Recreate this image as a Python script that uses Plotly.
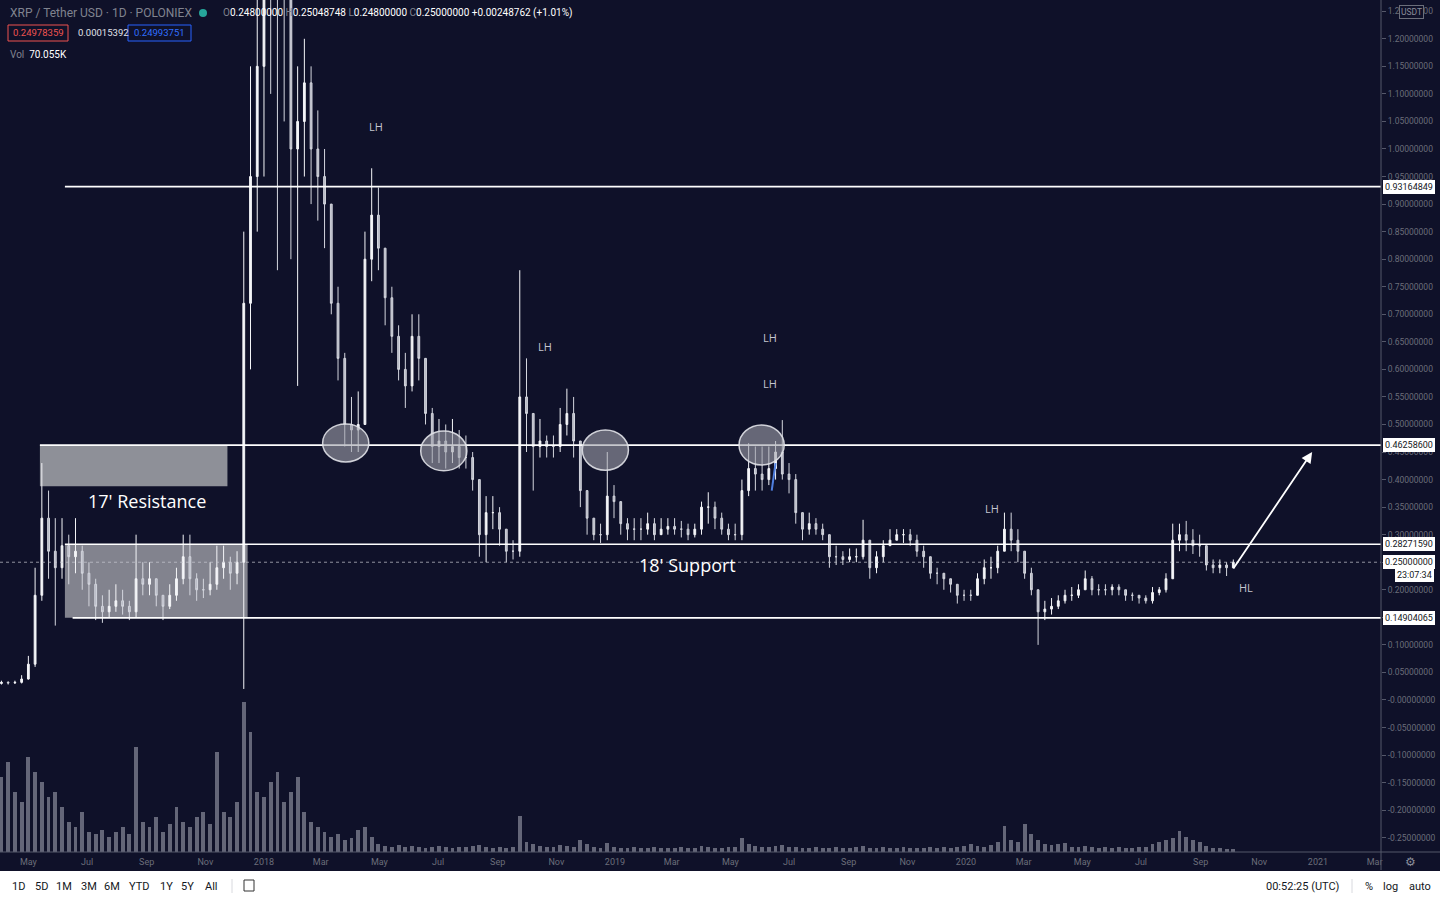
import plotly.graph_objects as go
import pandas as pd

# ---------------- data (weekly candles) ----------------
week_start = "2017-04-03"
first_open = 0.030
close = [0.032,0.031,0.032,0.038,0.065,0.19,0.33,0.27,0.24,0.28,
         0.26,0.27,0.23,0.21,0.17,0.16,0.17,0.18,0.17,0.16,
         0.22,0.21,0.22,0.19,0.17,0.19,0.22,0.26,0.22,0.20,
         0.20,0.21,0.24,0.25,0.23,0.25,0.72,0.95,1.15,1.90,
         1.60,1.40,1.30,1.00,1.05,1.12,1.00,0.95,0.90,0.72,
         0.62,0.50,0.49,0.50,0.80,0.88,0.82,0.73,0.66,0.60,
         0.57,0.66,0.62,0.52,0.46,0.47,0.45,0.46,0.44,0.44,
         0.40,0.30,0.34,0.34,0.31,0.27,0.27,0.55,0.52,0.46,
         0.47,0.46,0.46,0.50,0.52,0.47,0.38,0.33,0.30,0.30,
         0.37,0.36,0.32,0.31,0.31,0.31,0.32,0.30,0.31,0.315,
         0.31,0.31,0.30,0.31,0.35,0.35,0.33,0.31,0.30,0.30,
         0.38,0.42,0.41,0.40,0.42,0.45,0.41,0.40,0.34,0.31,
         0.32,0.31,0.30,0.26,0.26,0.255,0.26,0.26,0.29,0.24,
         0.26,0.28,0.29,0.30,0.30,0.29,0.27,0.26,0.23,0.23,
         0.22,0.21,0.19,0.19,0.19,0.22,0.24,0.24,0.27,0.31,
         0.29,0.27,0.23,0.20,0.16,0.165,0.17,0.18,0.19,0.19,
         0.20,0.22,0.20,0.20,0.20,0.205,0.20,0.19,0.19,0.185,
         0.18,0.195,0.20,0.22,0.29,0.30,0.29,0.28,0.28,0.245,
         0.24,0.245,0.24,0.25]
high = [0.035,0.034,0.035,0.045,0.08,0.24,0.43,0.38,0.33,0.33,
        0.30,0.33,0.28,0.25,0.22,0.19,0.20,0.21,0.20,0.18,
        0.30,0.25,0.25,0.22,0.19,0.21,0.24,0.30,0.30,0.23,
        0.22,0.25,0.28,0.28,0.26,0.27,0.85,1.15,1.50,2.50,
        2.20,1.80,1.50,1.35,1.15,1.20,1.15,1.07,1.00,0.90,
        0.75,0.63,0.55,0.56,0.85,0.965,0.93,0.82,0.75,0.68,
        0.63,0.70,0.70,0.62,0.53,0.51,0.50,0.51,0.49,0.48,
        0.45,0.40,0.37,0.37,0.35,0.31,0.29,0.78,0.62,0.52,
        0.51,0.48,0.48,0.53,0.565,0.55,0.47,0.38,0.33,0.32,
        0.45,0.39,0.36,0.33,0.33,0.33,0.34,0.33,0.33,0.33,
        0.33,0.325,0.32,0.32,0.36,0.377,0.36,0.34,0.32,0.32,
        0.40,0.466,0.46,0.46,0.46,0.47,0.508,0.43,0.41,0.34,
        0.34,0.33,0.32,0.30,0.28,0.27,0.275,0.275,0.327,0.29,
        0.27,0.29,0.31,0.31,0.31,0.31,0.30,0.28,0.26,0.24,
        0.23,0.22,0.21,0.20,0.20,0.23,0.255,0.26,0.28,0.34,
        0.34,0.31,0.27,0.24,0.20,0.18,0.185,0.19,0.20,0.205,
        0.21,0.235,0.225,0.21,0.21,0.21,0.21,0.20,0.195,0.19,
        0.19,0.205,0.205,0.23,0.32,0.32,0.325,0.31,0.30,0.28,
        0.255,0.255,0.25,0.255]
low = [0.028,0.028,0.029,0.030,0.037,0.06,0.18,0.22,0.135,0.22,
       0.21,0.23,0.20,0.17,0.145,0.14,0.15,0.16,0.155,0.145,
       0.15,0.19,0.19,0.17,0.145,0.165,0.18,0.21,0.19,0.18,
       0.185,0.19,0.20,0.22,0.20,0.21,0.02,0.60,0.85,0.95,
       1.10,0.78,1.05,0.80,0.57,0.95,0.90,0.87,0.82,0.70,
       0.58,0.46,0.45,0.45,0.50,0.76,0.78,0.68,0.63,0.58,
       0.53,0.56,0.58,0.50,0.43,0.43,0.42,0.43,0.42,0.42,
       0.38,0.26,0.25,0.31,0.28,0.25,0.255,0.26,0.45,0.38,
       0.44,0.44,0.44,0.45,0.48,0.44,0.35,0.30,0.29,0.285,
       0.29,0.33,0.30,0.29,0.29,0.29,0.30,0.29,0.30,0.30,
       0.30,0.295,0.29,0.295,0.30,0.32,0.31,0.30,0.29,0.29,
       0.29,0.37,0.38,0.38,0.39,0.40,0.40,0.375,0.32,0.29,
       0.30,0.30,0.29,0.24,0.245,0.245,0.25,0.25,0.255,0.22,
       0.23,0.25,0.28,0.29,0.285,0.28,0.26,0.24,0.22,0.21,
       0.20,0.195,0.175,0.18,0.18,0.19,0.21,0.22,0.23,0.27,
       0.27,0.25,0.22,0.19,0.10,0.145,0.155,0.165,0.175,0.18,
       0.185,0.20,0.19,0.19,0.19,0.19,0.19,0.18,0.18,0.175,
       0.175,0.175,0.19,0.195,0.22,0.27,0.27,0.265,0.26,0.235,
       0.23,0.23,0.225,0.24]
volume_k = [75,90,60,50,95,80,70,55,60,45,
            30,25,40,20,18,22,15,20,25,18,
            105,30,25,35,20,28,45,30,25,35,
            40,28,100,40,35,50,150,120,60,55,
            70,80,50,60,75,40,30,25,20,15,
            18,12,14,22,25,15,8,6,5,7,
            5,6,5,4,5,6,5,4,5,5,
            6,7,5,4,5,4,5,36,10,8,
            6,5,5,7,6,5,12,8,5,4,
            9,5,4,4,5,4,4,5,4,4,
            4,5,4,4,6,5,4,4,5,5,
            14,8,6,5,5,6,7,5,5,4,
            4,5,4,4,5,4,4,5,6,4,
            4,5,4,4,5,4,4,4,5,4,
            5,4,5,6,8,6,5,7,10,26,
            12,10,28,18,12,8,7,8,9,5,
            5,6,5,4,5,4,5,4,4,5,
            5,8,10,12,14,21,15,12,10,6,
            4,4,3,3]

x_tick_dates = ["2017-05-01","2017-07-01","2017-09-01","2017-11-01","2018-01-01","2018-03-01",
                "2018-05-01","2018-07-01","2018-09-01","2018-11-01","2019-01-01","2019-03-01",
                "2019-05-01","2019-07-01","2019-09-01","2019-11-01","2020-01-01","2020-03-01",
                "2020-05-01","2020-07-01","2020-09-01","2020-11-01","2021-01-01","2021-03-01"]
x_tick_labels = ["May","Jul","Sep","Nov","2018","Mar","May","Jul","Sep","Nov","2019","Mar",
                 "May","Jul","Sep","Nov","2020","Mar","May","Jul","Sep","Nov","2021","Mar"]
y_tick_values = [round(-0.25 + 0.05 * k, 2) for k in range(31)]
y_tick_labels = ["-0.00000000" if abs(v) < 1e-9 else f"{v:.8f}" for v in y_tick_values]

level_values = [0.93164849, 0.46258600, 0.28271590, 0.14904065]
level_labels = ["0.93164849", "0.46258600", "0.28271590", "0.14904065"]
level_starts = ["2017-06-08", "2017-05-13", "2017-06-08", "2017-06-16"]
last_price = 0.25
last_label = "0.25000000"

X_MIN, X_MAX = "2017-04-01 12:00", "2021-03-07 14:00"
Y_MIN, Y_MAX = -0.2759, 1.2704

dates = pd.date_range(week_start, periods=len(close), freq="7D")
opens = [first_open] + close[:-1]

BG = "#0f1129"
PW, PH = 1381.0, 852.0
def px(x): return x / PW
def py(y): return 1 - y / PH

fig = go.Figure()
fig.add_trace(go.Bar(x=dates, y=volume_k, yaxis="y2", width=4.0 * 86400000,
                     marker=dict(color="rgba(185,188,200,0.5)", line=dict(width=0)),
                     hoverinfo="skip", showlegend=False))
fig.add_trace(go.Candlestick(x=dates, open=opens, high=high, low=low, close=close,
                             increasing=dict(line=dict(color="#f4f5f8", width=1), fillcolor="#f4f5f8"),
                             decreasing=dict(line=dict(color="#d4d6de", width=1), fillcolor="#b4b6c2"),
                             whiskerwidth=0, showlegend=False, hoverinfo="skip"))

shapes = []
# grey zones
shapes.append(dict(type="rect", xref="x", yref="y", x0="2017-05-13", x1="2017-11-24",
                   y0=0.388, y1=0.46258600, fillcolor="rgba(150,152,158,0.95)", line=dict(width=0), layer="below"))
shapes.append(dict(type="rect", xref="x", yref="y", x0="2017-06-08", x1="2017-12-15",
                   y0=0.14904065, y1=0.28271590, fillcolor="rgba(150,152,160,0.85)", line=dict(width=0), layer="below"))
# horizontal levels
for v, s in zip(level_values, level_starts):
    shapes.append(dict(type="line", xref="x", yref="y", x0=s, x1=X_MAX, y0=v, y1=v,
                       line=dict(color="#ffffff", width=1.6), layer="above"))
# last-price dotted line
shapes.append(dict(type="line", xref="paper", yref="y", x0=0, x1=1, y0=last_price, y1=last_price,
                   line=dict(color="rgba(200,202,210,0.7)", width=1, dash="dot"), layer="above"))
# ellipses
for x0, x1, y0, y1 in [("2018-03-03", "2018-04-20", 0.432, 0.501),
                       ("2018-06-13", "2018-07-31", 0.416, 0.488),
                       ("2018-11-28", "2019-01-15", 0.417, 0.490),
                       ("2019-05-10", "2019-06-26", 0.4265, 0.499)]:
    shapes.append(dict(type="circle", xref="x", yref="y", x0=x0, x1=x1, y0=y0, y1=y1,
                       fillcolor="rgba(160,162,172,0.6)", line=dict(color="rgba(225,226,232,0.9)", width=1.5),
                       layer="above"))
# small blue marker
shapes.append(dict(type="line", xref="x", yref="y", x0="2019-06-13", x1="2019-06-17", y0=0.38, y1=0.43,
                   line=dict(color="#4f7fe0", width=2), layer="above"))
# axis separators
shapes.append(dict(type="line", xref="paper", yref="paper", x0=1, x1=1, y0=py(870), y1=1,
                   line=dict(color="#55586a", width=1)))
shapes.append(dict(type="line", xref="paper", yref="paper", x0=0, x1=px(1440), y0=0, y1=0,
                   line=dict(color="#55586a", width=1)))
# bottom toolbar
shapes.append(dict(type="rect", xref="paper", yref="paper", x0=0, x1=px(1440), y0=py(900), y1=py(871),
                   fillcolor="#ffffff", line=dict(width=0)))
shapes.append(dict(type="line", xref="paper", yref="paper", x0=px(232), x1=px(232), y0=py(893), y1=py(879),
                   line=dict(color="#d8d9de", width=1)))
shapes.append(dict(type="line", xref="paper", yref="paper", x0=px(1352), x1=px(1352), y0=py(893), y1=py(879),
                   line=dict(color="#d8d9de", width=1)))
shapes.append(dict(type="rect", xref="paper", yref="paper", x0=px(244), x1=px(254), y0=py(891), y1=py(880),
                   line=dict(color="#333333", width=1)))
# header bits
shapes.append(dict(type="circle", xref="paper", yref="paper", x0=px(199), x1=px(207), y0=py(17), y1=py(9),
                   fillcolor="#26a69a", line=dict(width=0)))
shapes.append(dict(type="rect", xref="paper", yref="paper", x0=px(8), x1=px(68), y0=py(41), y1=py(25),
                   line=dict(color="#ef5350", width=1)))
shapes.append(dict(type="rect", xref="paper", yref="paper", x0=px(128), x1=px(191), y0=py(41), y1=py(25),
                   line=dict(color="#2962ff", width=1)))

ann = []
def T(x, y, text, size=11, color="#ffffff", xanchor="left", xref="paper", yref="paper", family="Roboto", **kw):
    d = dict(x=x, y=y, xref=xref, yref=yref, text=text, showarrow=False, xanchor=xanchor, yanchor="middle",
             font=dict(size=size, color=color, family=family))
    d.update(kw)
    ann.append(d)

# chart texts
T("2017-09-01", 0.361, "17' Resistance", size=18, xanchor="center", xref="x", yref="y", family="Open Sans")
T("2019-03-17", 0.245, "18' Support", size=18, xanchor="center", xref="x", yref="y", family="Open Sans")
for xd, yv, t in [("2018-04-27", 1.04, "LH"), ("2018-10-20", 0.641, "LH"), ("2019-06-11", 0.657, "LH"),
                  ("2019-06-11", 0.575, "LH"), ("2020-01-28", 0.348, "LH"), ("2020-10-18", 0.205, "HL")]:
    T(xd, yv, t, size=11, color="#c4c6cf", xanchor="center", xref="x", yref="y", family="Open Sans")
ann.append(dict(x="2020-12-26", y=0.450, ax="2020-10-04", ay=0.236, xref="x", yref="y", axref="x", ayref="y",
                showarrow=True, arrowhead=2, arrowsize=1.2, arrowwidth=1.8, arrowcolor="#ffffff", text=""))

# header
T(px(8), py(13), "XRP / Tether USD · 1D · POLONIEX", size=12, color="#80838f", family="Roboto")
dim = "#80838f"
ohlc = (f"<span style='color:{dim}'>O</span>0.24800000 <span style='color:{dim}'>H</span>0.25048748 "
        f"<span style='color:{dim}'>L</span>0.24800000 <span style='color:{dim}'>C</span>0.25000000 "
        "+0.00248762 (+1.01%)")
T(px(221), py(13), ohlc, size=10, color="#ffffff", family="Roboto")
T(px(38), py(33), "0.24978359", size=9.5, color="#ef5350", xanchor="center")
T(px(76), py(33), "0.00015392", size=9.5, color="#e0e2ea")
T(px(159.5), py(33), "0.24993751", size=9.5, color="#2f6fff", xanchor="center")
T(px(8), py(54), f"<span style='color:{dim}'>Vol</span>  70.055K", size=10, color="#ffffff")

# right axis price boxes
for v, lab in zip(level_values + [last_price], level_labels + [last_label]):
    ann.append(dict(x=px(1383), y=v, xref="paper", yref="y", text=lab, showarrow=False, xanchor="left",
                    yanchor="middle", bgcolor="#ffffff", bordercolor="#ffffff", borderpad=1,
                    font=dict(size=9, color="#131722", family="Roboto")))
ann.append(dict(x=px(1434), y=0.2269, xref="paper", yref="y", text="23:07:34", showarrow=False, xanchor="right",
                yanchor="middle", bgcolor="#ffffff", bordercolor="#ffffff", borderpad=1,
                font=dict(size=9, color="#131722", family="Roboto")))
ann.append(dict(x=px(1411), y=py(12), xref="paper", yref="paper", text="USDT", showarrow=False, xanchor="center",
                yanchor="middle", bgcolor=BG, bordercolor="#6b6e7a", borderwidth=1, borderpad=1,
                font=dict(size=8.5, color="#8a8d99", family="Roboto")))
T(px(1410), py(862), "⚙", size=12, color="#8a8d99", xanchor="center", family="DejaVu Sans")

# bottom toolbar text
for xx, t in [(18, "1D"), (41, "5D"), (64, "1M"), (89, "3M"), (112, "6M"), (139, "YTD"), (166, "1Y"),
              (188, "5Y"), (211, "All")]:
    T(px(xx), py(886), t, size=11, color="#131722", xanchor="center")
T(px(1302), py(886), "00:52:25 (UTC)", size=11, color="#131722", xanchor="center")
T(px(1369), py(886), "%", size=11, color="#131722", xanchor="center")
T(px(1391), py(886), "log", size=11, color="#131722", xanchor="center")
T(px(1420), py(886), "auto", size=11, color="#131722", xanchor="center")

fig.update_layout(
    width=1440, height=900, margin=dict(l=0, r=59, t=0, b=48),
    paper_bgcolor=BG, plot_bgcolor=BG, showlegend=False, hovermode=False,
    shapes=shapes, annotations=ann, boxgap=0.62,
    xaxis=dict(type="date", range=[X_MIN, X_MAX], rangeslider=dict(visible=False), showgrid=False,
               zeroline=False, tickvals=x_tick_dates, ticktext=x_tick_labels, ticks="",
               ticklabelstandoff=3,
               tickfont=dict(size=9, color="#6b6e7a", family="Roboto"), showline=False),
    yaxis=dict(range=[Y_MIN, Y_MAX], side="right", showgrid=False, zeroline=False,
               tickvals=y_tick_values, ticktext=y_tick_labels, ticks="outside", ticklen=4,
               tickcolor="#55586a", tickfont=dict(size=8.5, color="#6b6e7a", family="Roboto")),
    yaxis2=dict(range=[0, 852], overlaying="y", visible=False, showgrid=False),
    bargap=0,
)
fig.write_html("out.html", config={"displayModeBar": False},
               post_script="document.body.style.margin='0px';document.body.style.overflow='hidden';")
